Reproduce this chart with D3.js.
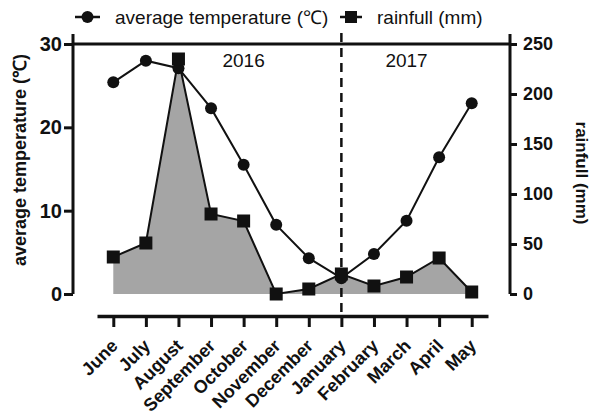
<!DOCTYPE html>
<html>
<head>
<meta charset="utf-8">
<script src="https://cdn.jsdelivr.net/npm/d3@7"></script>
<style>
  body { margin: 0; background: #fff; }
  text { font-family: "Liberation Sans", Arial, sans-serif; fill: #111; }
</style>
</head>
<body>
<div id="chart"></div>
<script>
var months = ["June", "July", "August", "September", "October", "November", "December",
              "January", "February", "March", "April", "May"]
var temperature = [25.4, 28.0, 27.1, 22.3, 15.5, 8.3, 4.3, 1.9, 4.8, 8.8, 16.4, 22.9]
var rainfall = [37, 51, 235, 80, 73, 0, 5, 20, 8, 17, 36, 2]
var tempTicks = [0, 10, 20, 30]
var rainTicks = [0, 50, 100, 150, 200, 250]
var years = [{label: "2016", at: "October"}, {label: "2017", at: "March"}]

var width = 598, height = 417
var plotLeft = 73, plotRight = 510, plotTop = 44, plotBottom = 294, axisY = 316

var svg = d3.select("#chart").append("svg")
    .attr("width", width)
    .attr("height", height)

var x = d3.scalePoint()
    .domain(months)
    .range([97, 488])
    .padding(0.5)

var yT = d3.scaleLinear().domain([0, 30]).range([plotBottom, plotTop])
var yR = d3.scaleLinear().domain([0, 250]).range([plotBottom, plotTop])

// rainfall area
svg.append("path")
    .datum(rainfall)
    .attr("fill", "#a5a5a5")
    .attr("d", d3.area()
        .x(function(d, i){ return x(months[i]) })
        .y0(yR(0))
        .y1(function(d){ return yR(d) }))

// top frame line
svg.append("line")
    .attr("x1", plotLeft).attr("x2", plotRight)
    .attr("y1", yT(30)).attr("y2", yT(30))
    .attr("stroke", "#111").attr("stroke-width", 3)

// left axis
var gl = svg.append("g")
    .attr("transform", "translate(" + plotLeft + ",0)")
    .call(d3.axisLeft(yT).tickValues(tempTicks).tickSize(9).tickPadding(2).tickSizeOuter(0))
gl.select(".domain").attr("d", "M0,34V" + plotBottom).attr("stroke-width", 3).attr("stroke", "#111")
gl.selectAll(".tick line").attr("stroke-width", 3).attr("stroke", "#111")
gl.selectAll(".tick text").attr("font-size", 20).attr("font-weight", "bold")
    .attr("font-family", "Liberation Sans, Arial, sans-serif").attr("fill", "#111")

// right axis
var gr = svg.append("g")
    .attr("transform", "translate(" + plotRight + ",0)")
    .call(d3.axisRight(yR).tickValues(rainTicks).tickSize(7).tickPadding(6).tickSizeOuter(0))
gr.select(".domain").attr("d", "M0,34V" + plotBottom).attr("stroke-width", 3).attr("stroke", "#111")
gr.selectAll(".tick line").attr("stroke-width", 3).attr("stroke", "#111")
gr.selectAll(".tick text").attr("font-size", 18).attr("font-weight", "bold")
    .attr("font-family", "Liberation Sans, Arial, sans-serif").attr("fill", "#111")

// bottom axis
var gb = svg.append("g")
    .attr("transform", "translate(0," + axisY + ")")
    .call(d3.axisBottom(x).tickSize(11).tickSizeOuter(0))
gb.select(".domain").attr("stroke-width", 3.5).attr("stroke", "#111")
gb.selectAll(".tick line").attr("stroke-width", 3).attr("stroke", "#111")
gb.selectAll(".tick text")
    .attr("font-size", 18).attr("font-weight", "bold")
    .attr("font-family", "Liberation Sans, Arial, sans-serif").attr("fill", "#111")
    .attr("text-anchor", "end")
    .attr("dy", null)
    .attr("y", 0)
    .attr("transform", "translate(5,31) rotate(-45)")

// dashed year divider
svg.append("line")
    .attr("x1", x("January")).attr("x2", x("January"))
    .attr("y1", 33).attr("y2", axisY)
    .attr("stroke", "#111").attr("stroke-width", 2.5)
    .attr("stroke-dasharray", "9,6")

// year labels
svg.selectAll(".year")
    .data(years).enter().append("text")
        .attr("class", "year")
        .attr("x", function(d){ return x(d.at) })
        .attr("y", 67)
        .attr("text-anchor", "middle")
        .attr("font-size", 19)
        .text(function(d){ return d.label })

// temperature line
svg.append("path")
    .datum(temperature)
    .attr("fill", "none")
    .attr("stroke", "#111")
    .attr("stroke-width", 2)
    .attr("d", d3.line()
        .x(function(d, i){ return x(months[i]) })
        .y(function(d){ return yT(d) }))

// rainfall line
svg.append("path")
    .datum(rainfall)
    .attr("fill", "none")
    .attr("stroke", "#111")
    .attr("stroke-width", 2)
    .attr("d", d3.line()
        .x(function(d, i){ return x(months[i]) })
        .y(function(d){ return yR(d) }))

svg.selectAll(".tempdot")
    .data(temperature).enter().append("circle")
        .attr("class", "tempdot")
        .attr("cx", function(d, i){ return x(months[i]) })
        .attr("cy", function(d){ return yT(d) })
        .attr("r", 6)
        .attr("fill", "#111")

svg.selectAll(".rainsq")
    .data(rainfall).enter().append("rect")
        .attr("class", "rainsq")
        .attr("x", function(d, i){ return x(months[i]) - 6.5 })
        .attr("y", function(d){ return yR(d) - 6.5 })
        .attr("width", 13)
        .attr("height", 13)
        .attr("fill", "#111")

// axis titles
svg.append("text")
    .attr("transform", "translate(26,160) rotate(-90)")
    .attr("text-anchor", "middle")
    .attr("font-size", 18)
    .attr("font-weight", "bold")
    .text("average temperature (℃)")

svg.append("text")
    .attr("transform", "translate(576,173) rotate(90)")
    .attr("text-anchor", "middle")
    .attr("font-size", 17)
    .attr("font-weight", "bold")
    .text("rainfull (mm)")

// legend
var legend = svg.append("g")
legend.append("line").attr("x1", 75).attr("x2", 100).attr("y1", 17).attr("y2", 17)
    .attr("stroke", "#111").attr("stroke-width", 2.5)
legend.append("circle").attr("cx", 87.5).attr("cy", 17).attr("r", 6).attr("fill", "#111")
legend.append("text").attr("x", 115).attr("y", 24).attr("font-size", 19)
    .text("average temperature (℃)")
legend.append("line").attr("x1", 340).attr("x2", 362).attr("y1", 17).attr("y2", 17)
    .attr("stroke", "#111").attr("stroke-width", 2.5)
legend.append("rect").attr("x", 345).attr("y", 11).attr("width", 12).attr("height", 12).attr("fill", "#111")
legend.append("text").attr("x", 377).attr("y", 24).attr("font-size", 19)
    .text("rainfull (mm)")
</script>
</body>
</html>
